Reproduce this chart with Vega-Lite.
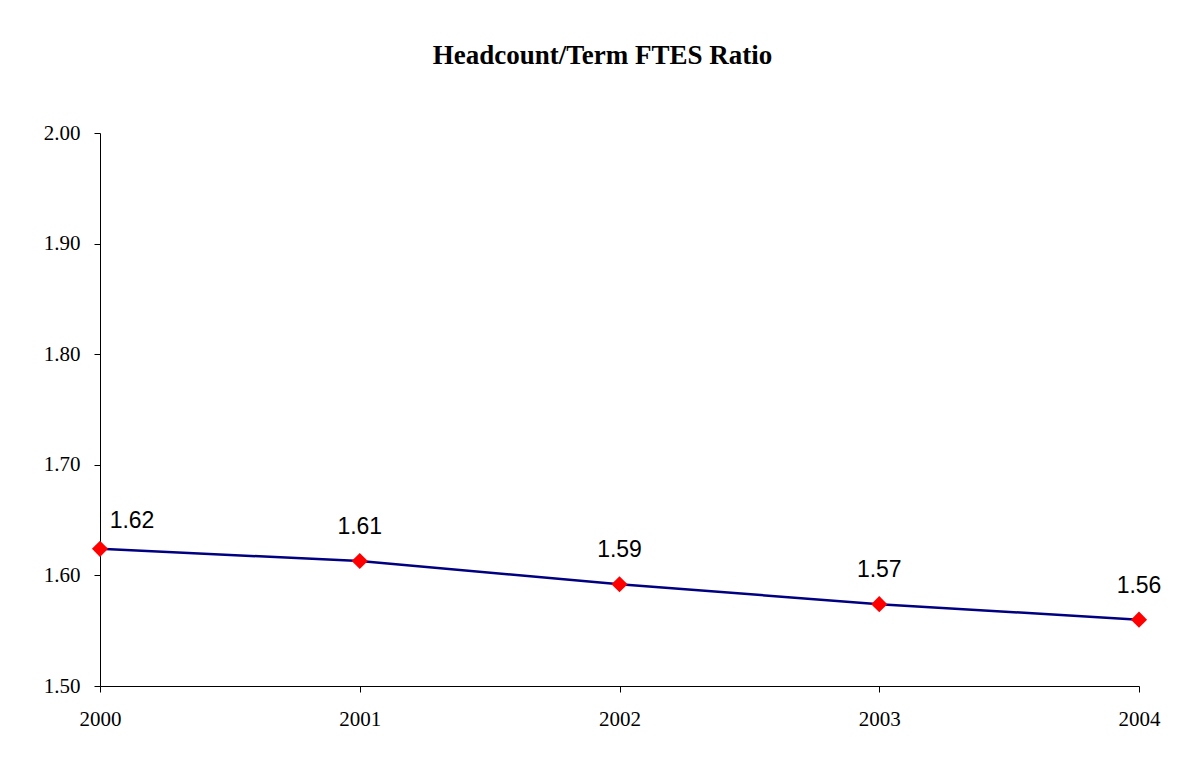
{
  "$schema": "https://vega.github.io/schema/vega-lite/v6.json",
  "autosize": "none",
  "width": 1039,
  "height": 553,
  "padding": {"left": 100, "top": 133, "right": 49, "bottom": 83},
  "background": "white",
  "title": {
    "text": "Headcount/Term FTES Ratio",
    "font": "Liberation Serif",
    "fontSize": 27,
    "fontWeight": "bold",
    "color": "black",
    "anchor": "middle",
    "dx": -17,
    "offset": 52
  },
  "config": {
    "view": {"stroke": null},
    "axis": {
      "grid": false,
      "domainColor": "black",
      "tickColor": "black",
      "labelFont": "Liberation Serif",
      "labelFontSize": 21,
      "labelColor": "black",
      "tickSize": 6,
      "labelFlush": false,
      "title": null
    }
  },
  "data": {
    "values": [
      {"year": 2000, "ratio": 1.624, "label": "1.62"},
      {"year": 2001, "ratio": 1.613, "label": "1.61"},
      {"year": 2002, "ratio": 1.592, "label": "1.59"},
      {"year": 2003, "ratio": 1.574, "label": "1.57"},
      {"year": 2004, "ratio": 1.560, "label": "1.56"}
    ]
  },
  "encoding": {
    "x": {
      "field": "year",
      "type": "quantitative",
      "scale": {"domain": [2000, 2004], "nice": false, "zero": false},
      "axis": {"values": [2000, 2001, 2002, 2003, 2004], "format": "d", "labelPadding": 16, "labelFontSize": 21, "labelFlush": false}
    },
    "y": {
      "field": "ratio",
      "type": "quantitative",
      "scale": {"domain": [1.5, 2.0], "nice": false, "zero": false},
      "axis": {"values": [1.5, 1.6, 1.7, 1.8, 1.9, 2.0], "format": ".2f", "labelPadding": 14, "labelFontSize": 21, "labelFlush": false}
    }
  },
  "layer": [
    {"mark": {"type": "line", "color": "#000080", "strokeWidth": 2.5}},
    {"mark": {"type": "point", "shape": "diamond", "filled": true, "color": "#ff0000", "size": 260, "opacity": 1}},
    {
      "transform": [{"filter": "datum.year != 2000"}],
      "mark": {"type": "text", "font": "Liberation Sans", "fontSize": 23, "color": "black", "dy": -34, "baseline": "middle"},
      "encoding": {"text": {"field": "label"}}
    },
    {
      "transform": [{"filter": "datum.year == 2000"}],
      "mark": {"type": "text", "font": "Liberation Sans", "fontSize": 23, "color": "black", "dy": -28, "dx": 32, "baseline": "middle"},
      "encoding": {"text": {"field": "label"}}
    }
  ]
}
